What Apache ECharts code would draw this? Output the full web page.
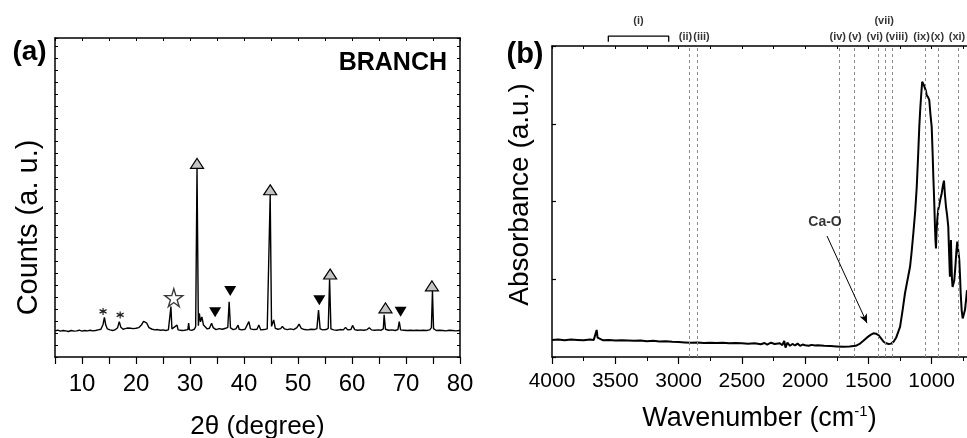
<!DOCTYPE html>
<html>
<head>
<meta charset="utf-8">
<script src="https://cdn.jsdelivr.net/npm/echarts@6/dist/echarts.min.js"></script>
<style>html,body{margin:0;padding:0;background:#fff}#c{width:967px;height:438px}</style>
</head>
<body>
<div id="c"></div>
<script>
// ---------- Panel (a): XRD pattern, [2θ, counts (a.u.)] ----------
const xrdPattern = [
[5,8.2],[5.5,8.4],[6,8.1],[6.5,8.3],[7,8.2],[7.5,8.0],[8,8.3],[8.5,8.1],[9,8.2],[9.5,8.4],
[10,8.1],[10.5,8.3],[11,8.2],[11.5,8.4],[12,8.2],[12.5,8.3],[13,8.5],[13.5,8.7],[13.9,10.2],[14.15,12.4],
[14.4,10.0],[14.7,8.8],[15.2,8.5],[15.7,8.3],[16.2,8.6],[16.6,9.2],[16.9,11.1],[17.2,9.3],[17.6,8.7],[18,8.9],
[18.5,9.1],[19,9.0],[19.2,9.5],[19.5,8.9],[20,9.0],[20.5,9.2],[21,10.0],[21.4,11.2],[21.7,11.8],[22,10.6],
[22.4,9.2],[23,8.7],[23.5,8.5],[24,8.6],[24.5,8.4],[25,8.5],[25.5,8.3],[26,8.5],[26.3,8.7],[26.47,15.8],
[26.65,8.8],[27,8.4],[27.6,10.0],[27.8,8.5],[28.5,8.3],[29,8.4],[29.6,8.6],[29.75,10.6],[29.9,8.5],[30.4,8.4],
[30.8,8.7],[31.05,9.5],[31.3,59.2],[31.55,9.8],[31.73,13.7],[31.95,11.0],[32.2,12.6],[32.5,10.0],[32.8,9.8],[33.2,8.8],
[33.6,9.0],[34.0,10.6],[34.3,9.2],[34.8,8.6],[35.4,8.9],[36,8.7],[36.6,9.0],[37.0,9.3],[37.25,17.3],[37.5,9.1],
[38,8.6],[38.5,8.8],[38.9,10.0],[39.1,8.7],[39.6,8.5],[40.2,8.7],[40.9,11.1],[41.2,8.8],[41.8,8.6],[42.4,8.7],
[42.75,10.0],[43.1,8.5],[43.7,8.6],[44.3,8.8],[44.6,9.2],[44.85,50.8],[45.1,9.6],[45.5,11.6],[45.8,9.0],[46.3,8.7],
[46.8,8.9],[47.1,9.6],[47.5,8.8],[48,8.6],[48.6,8.8],[49.2,8.6],[49.8,9.2],[50.2,10.3],[50.6,9.0],[51.2,8.6],
[51.8,8.5],[52.4,8.7],[53,8.6],[53.5,8.9],[53.8,14.7],[54.1,8.8],[54.6,8.5],[55.2,8.6],[55.6,9.0],[55.85,24.4],
[56.1,8.8],[56.6,8.5],[57.2,8.4],[57.8,8.6],[58.4,8.5],[58.8,9.3],[59.2,8.5],[59.8,8.6],[60.1,9.9],[60.5,8.6],
[61,8.4],[61.6,8.5],[62.2,8.4],[62.8,8.6],[63.2,9.2],[63.6,8.5],[64.2,8.4],[64.8,8.5],[65.4,8.4],[65.8,8.8],
[65.95,13.2],[66.2,8.7],[66.8,8.4],[67.4,8.5],[68.0,8.3],[68.5,8.6],[68.75,11.1],[69.0,8.5],[69.6,8.4],[70.2,8.3],
[70.8,8.4],[71.4,8.3],[72,8.4],[72.6,8.3],[73.2,8.4],[73.8,8.3],[74.4,8.5],[74.7,9.2],[74.9,20.8],[75.1,8.9],
[75.6,8.3],[76.2,8.4],[76.8,8.3],[77.4,8.2],[78,8.4],[78.6,8.3],[79.2,8.2],[80,8.3]
];
// phase markers [2θ, counts]
const xrdUpTriangles   = [[31.3,60.7],[44.85,52.4],[55.95,26.0],[66.2,15.4],[74.8,22.3]];
const xrdDownTriangles = [[34.65,14.0],[37.45,20.7],[53.95,17.8],[69.0,14.2]];
const xrdStars         = [[27.0,18.6]];
const xrdAsterisks     = [[13.9,14.3],[17.07,13.2]];
const xrdXRange = { min: 5, max: 80, step: 5 };

// ---------- Panel (b): FTIR spectrum, [wavenumber cm-1, absorbance (a.u.)] ----------
const ftirSpectrum = [
[4000,5.5],[3950,5.6],[3900,5.4],[3850,5.6],[3800,5.5],[3750,5.4],[3700,5.6],[3670,5.5],[3655,6.0],[3647,8.7],
[3640,6.2],[3630,5.6],[3600,5.4],[3550,5.5],[3500,5.3],[3450,5.4],[3400,5.3],[3350,5.2],[3300,5.3],[3250,5.1],
[3200,5.2],[3150,5.0],[3100,5.1],[3050,4.9],[3000,4.8],[2950,4.7],[2900,4.6],[2850,4.7],[2800,4.5],[2750,4.6],
[2700,4.5],[2650,4.6],[2600,4.4],[2550,4.5],[2500,4.4],[2450,4.3],[2400,4.4],[2350,4.1],[2320,4.5],[2300,4.0],
[2270,4.6],[2240,4.2],[2200,4.4],[2180,3.8],[2165,5.2],[2155,3.0],[2140,4.6],[2120,3.6],[2100,4.2],[2080,3.7],
[2060,4.3],[2040,3.6],[2020,4.0],[2000,3.8],[1985,4.4],[1970,3.6],[1950,3.9],[1920,3.7],[1900,3.8],[1850,3.6],
[1800,3.5],[1750,3.4],[1700,3.3],[1650,3.4],[1600,3.6],[1570,4.2],[1540,5.2],[1510,6.3],[1480,7.2],[1460,7.6],
[1440,7.5],[1420,7.0],[1400,6.0],[1380,4.9],[1360,4.4],[1340,4.2],[1320,4.3],[1300,5.0],[1280,6.3],[1265,8.0],
[1250,9.7],[1230,15.0],[1211,20.5],[1190,25.0],[1171,29.0],[1158,34.0],[1145,39.8],[1130,47.0],[1118,54.8],[1108,64.0],
[1098,74.0],[1090,80.0],[1082,84.8],[1075,88.5],[1070,88.8],[1062,87.5],[1053,86.9],[1045,85.5],[1040,84.2],[1028,83.5],
[1019,82.6],[1010,78.0],[1000,74.0],[993,66.0],[987,58.0],[980,50.0],[974,41.9],[970,37.5],[966,34.9],[962,40.0],
[956,44.1],[948,47.5],[940,48.9],[930,51.0],[921,52.6],[912,55.0],[903,56.7],[895,52.0],[887,48.3],[878,45.5],
[869,41.9],[862,33.0],[856,25.8],[852,30.0],[848,37.6],[844,31.0],[840,25.3],[835,22.5],[829,22.1],[822,24.5],
[813,29.0],[805,34.0],[798,37.1],[792,35.0],[782,31.2],[776,26.0],[771,20.5],[763,15.0],[755,12.4],[746,13.0],
[737,15.1],[728,18.5],[721,21.5]
];
const ftirXRange = { min: 721, max: 4000 };
const ftirMajorTicks = [1000, 1500, 2000, 2500, 3000, 3500, 4000];
const ftirMinorTicks = [750, 1250, 1750, 2250, 2750, 3250, 3750];
const ftirBandLines = [2915, 2850, 1730, 1610, 1420, 1370, 1315, 1050, 950, 790];
const ftirBandLabels = [
  ['(ii)', 2945, 0], ['(iii)', 2819, 0], ['(iv)', 1742, 0], ['(v)', 1606, 0], ['(vi)', 1450, 0],
  ['(vii)', 1375, 1], ['(viii)', 1276, 0], ['(ix)', 1080, 0], ['(x)', 955, 0], ['(xi)', 800, 0]
];
const ftirBracket = { label: '(i)', from: 3555, to: 3078 };
const caOLabel = { text: 'Ca-O', at: [1843, 43.4], arrowFrom: [1827, 38.9], arrowTo: [1511, 10.9] };

// ---------- styles ----------
const FONT = '"Liberation Sans", Arial, sans-serif';
const black = '#000';
const axisLine = { show: true, onZero: false, lineStyle: { color: black, width: 1.5 } };
const ABOVE_LOW = 102.9, ABOVE_HIGH = 107.9, BR_TOP = 103.2, BR_END = 101.4;

const chart = echarts.init(document.getElementById('c'), null, { renderer: 'canvas' });

const option = {
  animation: false,
  backgroundColor: '#fff',
  grid: [
    { left: 55, top: 38, width: 405, height: 319, outerBoundsMode: 'none', containLabel: false },
    { left: 552, top: 46, right: 0, height: 311, outerBoundsMode: 'none', containLabel: false }
  ],
  xAxis: [
    { gridIndex: 0, type: 'value', position: 'bottom', min: xrdXRange.min, max: xrdXRange.max, interval: xrdXRange.step,
      axisLine, axisTick: { show: true, inside: false, length: 7, lineStyle: { color: black, width: 1.2 } },
      axisLabel: { formatter: v => (v % 10 === 0 ? String(v) : ''), fontSize: 24, color: black, fontFamily: FONT, margin: 15 },
      splitLine: { show: false },
      name: '2θ (degree)', nameLocation: 'middle', nameGap: 57, nameMoveOverlap: false,
      nameTextStyle: { fontSize: 26, color: black, fontFamily: FONT } },
    { gridIndex: 0, type: 'value', position: 'top', min: xrdXRange.min, max: xrdXRange.max, interval: xrdXRange.step,
      axisLine, axisTick: { show: true, inside: true, length: 3, lineStyle: { color: black, width: 1 } },
      axisLabel: { show: false }, splitLine: { show: false } },
    { gridIndex: 1, type: 'value', position: 'bottom', inverse: true, min: ftirXRange.min, max: ftirXRange.max,
      axisLine, axisTick: { show: true, inside: false, length: 7, customValues: ftirMajorTicks, lineStyle: { color: black, width: 1.2 } },
      axisLabel: { customValues: ftirMajorTicks, formatter: v => String(v), fontSize: 21, color: black, fontFamily: FONT, margin: 14 },
      splitLine: { show: false },
      name: 'Wavenumber (cm{sup|-1})', nameLocation: 'middle', nameGap: 47, nameMoveOverlap: false,
      nameTextStyle: { fontSize: 27, color: black, fontFamily: FONT,
        rich: { sup: { fontSize: 15, color: black, fontFamily: FONT, verticalAlign: 'top', padding: [0, 0, 14, 0] } } } },
    { gridIndex: 1, type: 'value', position: 'bottom', inverse: true, min: ftirXRange.min, max: ftirXRange.max,
      axisLine: { show: false },
      axisTick: { show: true, inside: false, length: 4, customValues: ftirMinorTicks, lineStyle: { color: black, width: 1 } },
      axisLabel: { show: false }, splitLine: { show: false } },
    { gridIndex: 1, type: 'value', position: 'top', inverse: true, min: ftirXRange.min, max: ftirXRange.max,
      axisLine, axisTick: { show: true, inside: true, length: 3, customValues: ftirMajorTicks.concat(ftirMinorTicks), lineStyle: { color: black, width: 1 } },
      axisLabel: { show: false }, splitLine: { show: false } }
  ],
  yAxis: [
    { gridIndex: 0, type: 'value', position: 'left', min: 0, max: 100, interval: 3.75,
      axisLine, axisTick: { show: true, inside: true, length: 3, lineStyle: { color: black, width: 1 } },
      axisLabel: { show: false }, splitLine: { show: false },
      name: 'Counts (a. u.)', nameLocation: 'middle', nameGap: 12, nameMoveOverlap: false,
      nameTextStyle: { fontSize: 29, color: black, fontFamily: FONT, padding: [0, 60, 0, 0] } },
    { gridIndex: 0, type: 'value', position: 'right', min: 0, max: 100, interval: 3.75,
      axisLine, axisTick: { show: true, inside: true, length: 3, lineStyle: { color: black, width: 1 } },
      axisLabel: { show: false }, splitLine: { show: false } },
    { gridIndex: 1, type: 'value', position: 'left', min: 0, max: 100, interval: 25,
      axisLine, axisTick: { show: true, inside: true, length: 4, lineStyle: { color: black, width: 1.2 } },
      axisLabel: { show: false }, splitLine: { show: false },
      name: 'Absorbance (a.u.)', nameLocation: 'middle', nameGap: 18, nameMoveOverlap: false,
      nameTextStyle: { fontSize: 28, color: black, fontFamily: FONT, padding: [0, 0, 0, 14] } }
  ],
  series: [
    { type: 'line', xAxisIndex: 0, yAxisIndex: 0, data: xrdPattern, showSymbol: false, symbol: 'none',
      lineStyle: { color: black, width: 1.4 }, z: 3 },
    { type: 'scatter', xAxisIndex: 0, yAxisIndex: 0, data: xrdUpTriangles, symbol: 'triangle', symbolSize: [13, 10],
      itemStyle: { color: '#c4c4c4', borderColor: black, borderWidth: 1.2, opacity: 1 }, z: 5 },
    { type: 'scatter', xAxisIndex: 0, yAxisIndex: 0, data: xrdDownTriangles, symbol: 'triangle', symbolRotate: 180, symbolSize: [12, 10],
      itemStyle: { color: black, opacity: 1 }, z: 5 },
    { type: 'scatter', xAxisIndex: 0, yAxisIndex: 0, data: xrdStars,
      symbol: 'path://M50,0 L61,35 L98,35 L68,57 L79,91 L50,70 L21,91 L32,57 L2,35 L39,35 Z', symbolSize: 18,
      itemStyle: { color: '#fff', borderColor: '#3a3a3a', borderWidth: 1.4, opacity: 1 }, z: 5 },
    { type: 'scatter', xAxisIndex: 0, yAxisIndex: 0, data: xrdAsterisks,
      symbol: 'path://M5,0 L5,10 M0.7,2.5 L9.3,7.5 M0.7,7.5 L9.3,2.5', symbolSize: 7,
      itemStyle: { color: 'rgba(0,0,0,0)', borderColor: '#222', borderWidth: 1.2, opacity: 1 }, z: 5 },

    { type: 'line', xAxisIndex: 2, yAxisIndex: 2, data: ftirSpectrum, showSymbol: false, symbol: 'none',
      lineStyle: { color: black, width: 2 }, z: 4,
      markLine: { silent: true, symbol: ['none', 'none'], label: { show: false },
        lineStyle: { color: '#8a8a8a', width: 1, type: [3, 3] },
        data: ftirBandLines.map(w => ({ xAxis: w })) } },
    { type: 'line', xAxisIndex: 2, yAxisIndex: 2, data: [], z: 4,
      markLine: { silent: true, symbol: ['none', 'arrow'], symbolSize: [6, 9], label: { show: false },
        lineStyle: { color: black, width: 1, type: 'solid' },
        data: [[{ coord: caOLabel.arrowFrom }, { coord: caOLabel.arrowTo }]] } },
    { type: 'line', xAxisIndex: 2, yAxisIndex: 2, clip: false, showSymbol: false, symbol: 'none',
      data: [[ftirBracket.from, BR_END], [ftirBracket.from, BR_TOP], [ftirBracket.to, BR_TOP], [ftirBracket.to, BR_END]],
      lineStyle: { color: black, width: 1.3 }, z: 4 },
    { type: 'scatter', xAxisIndex: 2, yAxisIndex: 2, clip: false, symbol: 'circle', symbolSize: 1,
      itemStyle: { color: 'rgba(0,0,0,0)' },
      data: ftirBandLabels.map(([t, w, row]) => ({ value: [w, row ? ABOVE_HIGH : ABOVE_LOW], name: t }))
        .concat([{ value: [(ftirBracket.from + ftirBracket.to) / 2, ABOVE_HIGH], name: ftirBracket.label },
                 { value: caOLabel.at, name: caOLabel.text, label: { fontSize: 14 } }]),
      label: { show: true, position: 'inside', formatter: p => p.name, color: black, fontFamily: FONT,
        fontWeight: 'bold', fontSize: 11 }, z: 6 }
  ],
  graphic: [
    { type: 'text', x: 29.5, y: 52, style: { text: '(a)', font: 'bold 28px "Liberation Sans", Arial, sans-serif', fill: black, align: 'center', verticalAlign: 'middle' } },
    { type: 'text', x: 525, y: 55, style: { text: '(b)', font: 'bold 29px "Liberation Sans", Arial, sans-serif', fill: black, align: 'center', verticalAlign: 'middle' } },
    { type: 'text', x: 447, y: 63, style: { text: 'BRANCH', font: 'bold 25px "Liberation Sans", Arial, sans-serif', fill: black, align: 'right', verticalAlign: 'middle' } }
  ]
};
chart.setOption(option);
</script>
</body>
</html>
